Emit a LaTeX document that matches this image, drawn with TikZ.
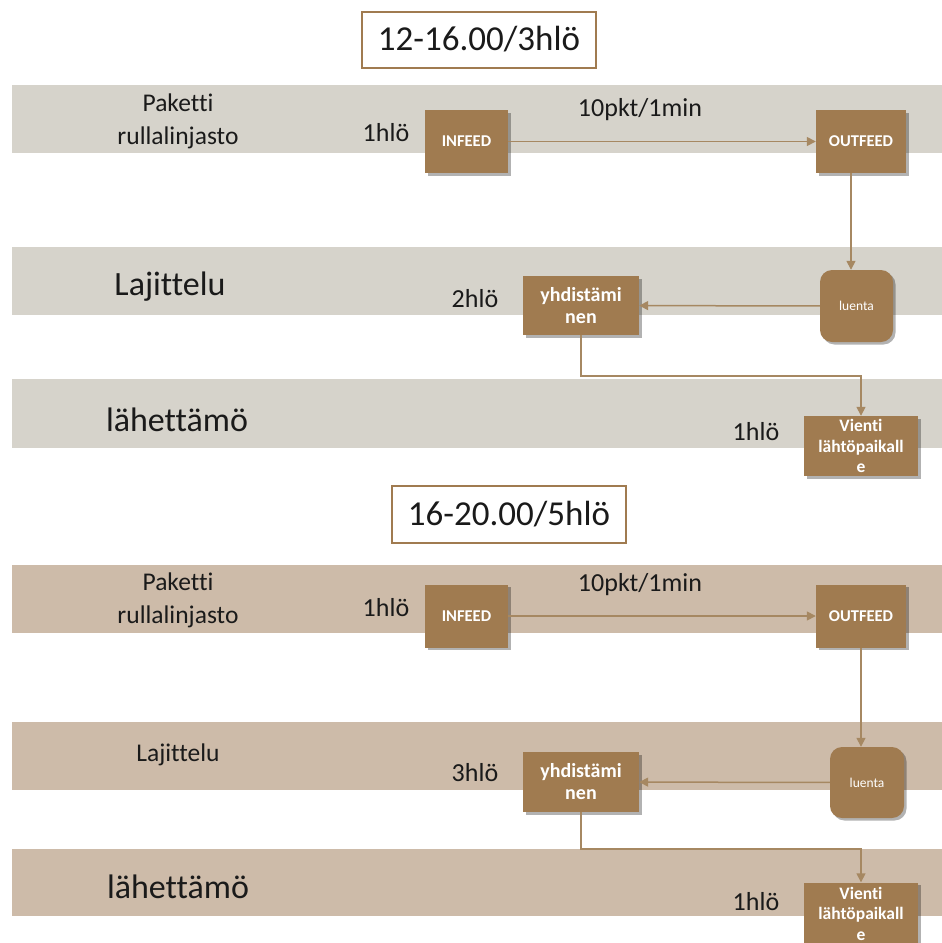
\documentclass[tikz,border=0pt]{standalone}
\usepackage{fontspec}
\setmainfont{Carlito}[Ligatures=NoCommon]
\usetikzlibrary{arrows.meta,shadows}

\definecolor{bandgrey}{RGB}{214,211,203}
\definecolor{bandtan}{RGB}{205,187,169}
\definecolor{boxbrown}{RGB}{160,123,80}
\definecolor{flowbrown}{RGB}{166,136,98}
\definecolor{inkdark}{RGB}{26,26,26}

\begin{document}
\begin{tikzpicture}[x=1pt,y=-1pt,
  % process boxes
  procbox/.style={fill=boxbrown, text=white, inner sep=0pt, align=center,
    drop shadow={shadow xshift=2.5pt, shadow yshift=-2.5pt, fill=black, opacity=0.3}},
  feedbox/.style={procbox, minimum height=63pt, font=\bfseries\fontsize{16.5}{19}\selectfont},
  joinbox/.style={procbox, minimum width=116pt, minimum height=59pt, font=\bfseries\fontsize{20}{22}\selectfont},
  readbox/.style={procbox, rounded corners=12pt, font=\fontsize{13.5}{16}\selectfont},
  exportbox/.style={procbox, minimum width=114pt, font=\bfseries\fontsize{17.5}{20.5}\selectfont},
  % headings
  shiftbox/.style={draw=boxbrown, line width=2pt, fill=white, inner sep=0pt,
    minimum width=234pt, text=inkdark, font=\fontsize{35}{40}\selectfont},
  lanebig/.style={text=inkdark, font=\fontsize{34}{40}\selectfont, inner sep=0pt},
  lanesmall/.style={text=inkdark, align=center, font=\fontsize{25.5}{33}\selectfont, inner sep=0pt},
  staff/.style={text=inkdark, font=\fontsize{26}{30}\selectfont, inner sep=0pt},
  flow/.style={draw=flowbrown, line width=1.5pt},
  flowarrow/.style={flow, -{Triangle[length=9pt,width=9pt]}}
]
\useasboundingbox (0,0) rectangle (942,943);
\clip (0,0) rectangle (942,943);
\fill[white] (0,0) rectangle (942,943);

% ---------------- shift 12-16 ----------------
\fill[bandgrey] (12,85) rectangle (942,153);
\fill[bandgrey] (12,247) rectangle (942,315);
\fill[bandgrey] (12,379) rectangle (942,448);

\node[shiftbox, minimum height=56pt] (title1) at (479,39.5) {12-16.00/3hlö};

\node[lanesmall] (lane1a) at (178,121) {Paketti\\rullalinjasto};
\node[lanebig] (lane1b) at (170,287) {Lajittelu};
\node[lanebig] (lane1c) at (177,420) {lähettämö};

\node[staff] (staff1a) at (386,133) {1hlö};
\node[staff] (staff1b) at (475,299) {2hlö};
\node[staff] (staff1c) at (756,432) {1hlö};
\node[staff] (rate1) at (640,110) {10pkt/1min};

\node[feedbox, minimum width=83pt] (infeed1) at (466.5,141.5) {INFEED};
\node[feedbox, minimum width=90pt] (outfeed1) at (861,141.5) {OUTFEED};
\node[readbox, minimum width=73pt, minimum height=72pt] (luenta1) at (856.5,306) {luenta};
\node[joinbox] (join1) at (581,305.5) {yhdistämi\\nen};
\node[exportbox, minimum height=60pt] (export1) at (861,446) {Vienti\\lähtöpaikall\\e};

\coordinate (drop1) at (851,0);
\draw[flowarrow] (infeed1) -- (outfeed1);
\draw[flowarrow] (outfeed1.south -| drop1) -- (luenta1.north -| drop1);
\draw[flowarrow] (luenta1) -- (join1);
\draw[flowarrow] (join1.south) -- ++(0,41) -| (export1.north);

% ---------------- shift 16-20 ----------------
\fill[bandtan] (12,565) rectangle (942,633);
\fill[bandtan] (12,722) rectangle (942,790);
\fill[bandtan] (12,849) rectangle (942,916);

\node[shiftbox, minimum height=57pt] (title2) at (509,514.5) {16-20.00/5hlö};

\node[lanesmall] (lane2a) at (178,600) {Paketti\\rullalinjasto};
\node[lanesmall] (lane2b) at (178,755) {Lajittelu};
\node[lanebig] (lane2c) at (178,887) {lähettämö};

\node[staff] (staff2a) at (386,608) {1hlö};
\node[staff] (staff2b) at (475,773) {3hlö};
\node[staff] (staff2c) at (756,902) {1hlö};
\node[staff] (rate2) at (640,585) {10pkt/1min};

\node[feedbox, minimum width=83pt] (infeed2) at (466.5,616) {INFEED};
\node[feedbox, minimum width=90pt] (outfeed2) at (861,616) {OUTFEED};
\node[readbox, minimum width=74pt, minimum height=71pt] (luenta2) at (867,782.5) {luenta};
\node[joinbox, minimum height=60pt] (join2) at (581,782) {yhdistämi\\nen};
\node[exportbox, minimum height=62pt] (export2) at (861,913.5) {Vienti\\lähtöpaikall\\e};

\draw[flowarrow] (infeed2) -- (outfeed2);
\draw[flowarrow] (outfeed2) -- (outfeed2 |- luenta2.north);
\draw[flowarrow] (luenta2) -- (join2);
\draw[flowarrow] (join2.south) -- ++(0,37) -| (export2.north);
\end{tikzpicture}
\end{document}
